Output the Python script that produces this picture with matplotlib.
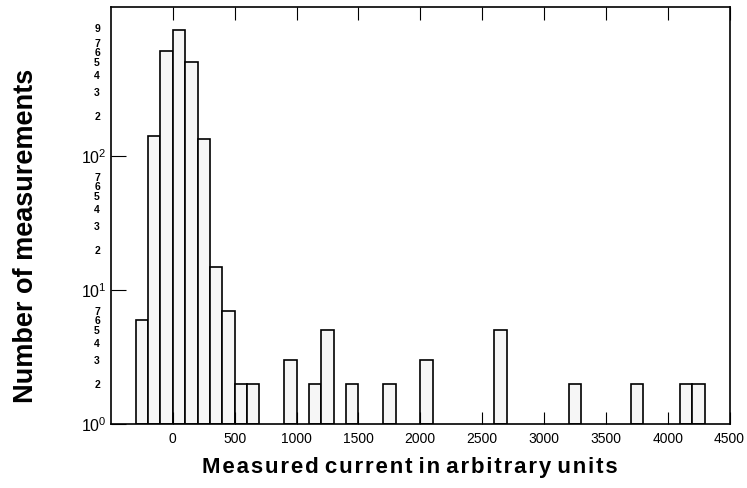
import matplotlib.pyplot as plt
import numpy as np
from matplotlib.ticker import FixedLocator, FixedFormatter

# histogram bins (left edges, width 100) and counts
bin_left = np.arange(-300, 4300, 100)
counts = [
    6, 141, 611, 871, 506, 134, 15, 7, 2, 2,      # -300 .. 600
    0, 0, 3, 0, 2, 5, 0, 2, 0, 0,                 # 700 .. 1600
    2, 0, 0, 3, 0, 0, 0, 0, 0, 5,                 # 1700 .. 2600
    0, 0, 0, 0, 0, 2, 0, 0, 0, 0,                 # 2700 .. 3600
    2, 0, 0, 0, 2, 2,                             # 3700 .. 4200
]
x_ticks = [0, 500, 1000, 1500, 2000, 2500, 3000, 3500, 4000, 4500]
y_major = [1, 10, 100]
y_major_labels = [r"$10^0$", r"$10^1$", r"$10^2$"]
minor_digits = [2, 3, 4, 5, 6, 7]
top_digits = [2, 3, 4, 5, 6, 7, 9]
x_title = "Measured current in arbitrary units"
y_title = "Number of measurements"

plt.rcParams["font.family"] = ["Liberation Sans", "DejaVu Sans"]
plt.rcParams["mathtext.fontset"] = "custom"
plt.rcParams["mathtext.rm"] = "Liberation Sans"

fig = plt.figure(figsize=(7.47, 4.88), dpi=100)
ax = fig.add_axes([0.1486, 0.131, 0.828, 0.854])
ax.set_yscale("log")

counts = np.asarray(counts, dtype=float)
mask = counts > 1
ax.bar(bin_left[mask], counts[mask] - 1, bottom=1, width=100, align="edge",
       facecolor="#f6f6f6", edgecolor="black", linewidth=1.2)

ax.set_xlim(-500, 4500)
ax.set_ylim(1, 1290)

ax.xaxis.set_major_locator(FixedLocator(x_ticks))
ax.xaxis.set_major_formatter(FixedFormatter([str(t) for t in x_ticks]))
ax.yaxis.set_major_locator(FixedLocator(y_major))
ax.yaxis.set_major_formatter(FixedFormatter(y_major_labels))

minor_pos = [d for d in minor_digits] + [d * 10 for d in minor_digits] + [d * 100 for d in top_digits]
minor_lab = [str(d) for d in minor_digits] * 2 + [str(d) for d in top_digits]
ax.yaxis.set_minor_locator(FixedLocator(minor_pos))
ax.yaxis.set_minor_formatter(FixedFormatter(minor_lab))
ax.xaxis.set_minor_locator(FixedLocator([]))

ax.tick_params(axis="x", which="major", direction="in", length=9, width=0.8,
               top=True, labelsize=10, pad=6)
ax.tick_params(axis="y", which="major", direction="in", length=11, width=0.8,
               labelsize=11.5, pad=3)
ax.tick_params(axis="y", which="minor", direction="in", length=0,
               labelsize=7.5, pad=8)
for lab in ax.yaxis.get_minorticklabels():
    lab.set_fontweight("bold")

for side in ["left", "bottom", "top", "right"]:
    ax.spines[side].set_linewidth(1.2)

# letter-spaced x title (hair spaces between letters)
spaced = " ".join("\u200a".join(word) for word in x_title.split(" "))
ax.set_xlabel(spaced, fontsize=16, fontweight="bold", va="top")
ax.xaxis.set_label_coords(0.483, -0.078)
ax.set_ylabel(y_title, fontsize=19.5, fontweight="bold")
ax.yaxis.set_label_coords(-0.116, 0.451)

fig.savefig("out.png", dpi=100)
